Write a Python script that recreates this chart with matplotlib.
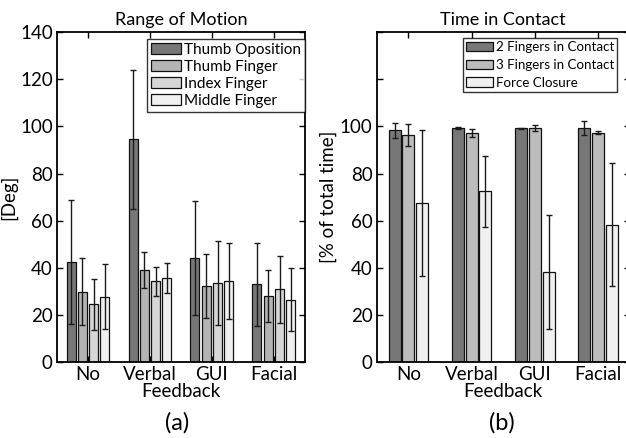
import numpy as np
import matplotlib
matplotlib.use("Agg")
import matplotlib.pyplot as plt

plt.rcParams["font.family"] = ["Lato", "DejaVu Sans"]

groups = ["No", "Verbal", "GUI", "Facial"]

# (a) Range of Motion [Deg]
rom_labels = ["Thumb Oposition", "Thumb Finger", "Index Finger", "Middle Finger"]
rom_mean = [
    [42.4, 94.5, 44.2, 33.0],
    [29.9, 39.0, 32.3, 28.1],
    [24.5, 34.2, 33.5, 30.8],
    [27.7, 35.7, 34.5, 26.5],
]
rom_std = [
    [26.4, 29.6, 24.3, 17.7],
    [14.2, 7.5, 13.5, 11.1],
    [10.8, 6.0, 17.7, 14.3],
    [13.7, 6.2, 16.2, 13.4],
]
rom_colors = ["#777777", "#b4b4b4", "#d6d6d6", "#f0f0f0"]

# (b) Time in Contact [% of total time]
tic_labels = ["2 Fingers in Contact", "3 Fingers in Contact", "Force Closure"]
tic_mean = [
    [98.3, 99.3, 99.3, 99.3],
    [96.3, 97.4, 99.3, 97.4],
    [67.3, 72.4, 38.2, 58.3],
]
tic_std = [
    [3.1, 0.3, 0.2, 2.9],
    [4.8, 1.7, 1.1, 0.5],
    [31.0, 15.0, 24.0, 26.0],
]
tic_colors = ["#777777", "#bcbcbc", "#f0f0f0"]

fig = plt.figure(figsize=(6.26, 4.38), dpi=100)
ax1 = fig.add_axes([0.091, 0.1735, 0.396, 0.753])
ax2 = fig.add_axes([0.602, 0.1735, 0.404, 0.753])

x = np.arange(1, len(groups) + 1)


def grouped(ax, means, stds, labels, colors, width, stride):
    n = len(means)
    for i in range(n):
        pos = x + (i - (n - 1) / 2) * stride
        ax.bar(pos, means[i], width, color=colors[i], edgecolor="#111111",
               linewidth=0.9, label=labels[i], zorder=2)
        ax.errorbar(pos, means[i], yerr=stds[i], fmt="none", ecolor="#1a1a1a",
                    elinewidth=1.0, capsize=2.2, capthick=1.0, zorder=3)


grouped(ax1, rom_mean, rom_std, rom_labels, rom_colors, 0.145, 0.182)
grouped(ax2, tic_mean, tic_std, tic_labels, tic_colors, 0.19, 0.217)

for ax in (ax1, ax2):
    ax.set_xlim(0.5, 4.5)
    ax.set_ylim(0, 140)
    ax.set_xticks(x)
    ax.set_xticklabels(groups)
    ax.tick_params(direction="in", top=True, right=True, labelsize=13.5,
                   length=4, width=1, pad=3)
    for s in ax.spines.values():
        s.set_linewidth(1.3)
    ax.set_xlabel("Feedback", fontsize=13.5, labelpad=0)

ax1.set_yticks(np.arange(0, 141, 20))
ax2.set_yticks(np.arange(0, 141, 20))
ax2.set_yticklabels(["0", "20", "40", "60", "80", "100", "", ""])

ax1.set_title("Range of Motion", fontsize=13, pad=5)
ax2.set_title("Time in Contact", fontsize=13, pad=5)
ax1.set_ylabel("[Deg]", fontsize=13.5, labelpad=2)
ax2.set_ylabel("[% of total time]", fontsize=13.5, labelpad=2)

leg_kw = dict(frameon=True, fancybox=False, edgecolor="black",
              handlelength=2.0, handleheight=0.7, handletextpad=0.2,
              borderpad=0.25, borderaxespad=0)
l1 = ax1.legend(loc="upper left", bbox_to_anchor=(0.362, 0.979),
                fontsize=11, labelspacing=0.2, **leg_kw)
l2 = ax2.legend(loc="upper left", bbox_to_anchor=(0.34, 0.982),
                fontsize=9.6, labelspacing=0.42, **leg_kw)
for lg in (l1, l2):
    lg.get_frame().set_linewidth(1.0)

fig.text(0.283, 0.02, "(a)", fontsize=17, ha="center")
fig.text(0.802, 0.02, "(b)", fontsize=17, ha="center")

fig.savefig("out.png", dpi=100)
